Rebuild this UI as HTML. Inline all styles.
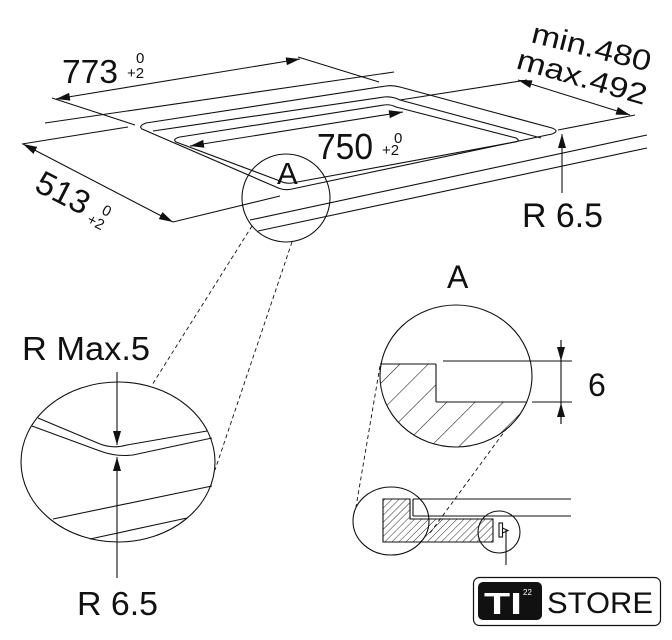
<!DOCTYPE html>
<html><head><meta charset="utf-8"><style>
html,body{margin:0;padding:0;background:#fff;}
svg{display:block;}
text{font-family:"Liberation Sans",sans-serif;fill:#111;}
</style></head><body>
<svg width="672" height="640" viewBox="0 0 672 640" xmlns="http://www.w3.org/2000/svg">
<defs>
<marker id="ah" viewBox="0 0 14 8" refX="14" refY="4" markerWidth="14" markerHeight="8" orient="auto-start-reverse" markerUnits="userSpaceOnUse">
<path d="M0,0 L14,4 L0,8 Z" fill="#111"/>
</marker>
<pattern id="h1" patternUnits="userSpaceOnUse" width="20" height="20" patternTransform="rotate(45)">
<line x1="0" y1="0" x2="0" y2="20" stroke="#111" stroke-width="1.1"/>
</pattern>
<pattern id="h2" patternUnits="userSpaceOnUse" width="5" height="5" patternTransform="rotate(45)">
<line x1="0" y1="0" x2="0" y2="5" stroke="#111" stroke-width="0.9"/>
</pattern>
<clipPath id="cA"><ellipse cx="456" cy="376" rx="76" ry="71"/></clipPath>
</defs>
<g fill="none" stroke="#111" stroke-width="1.1">
<line x1="45" y1="123" x2="394" y2="72"/>
<line x1="22" y1="144" x2="128" y2="127"/>
<line x1="400" y1="100" x2="527" y2="80"/>
<line x1="56" y1="99" x2="300" y2="59" marker-start="url(#ah)" marker-end="url(#ah)"/>
<line x1="52" y1="98" x2="135" y2="125"/>
<line x1="298" y1="57" x2="379" y2="82"/>
<path d="M146,123 L386,86 Q393,85 400,87 L552,128 Q560,131 552,134 L292,189 Q284,191 276,187 L142,129 Q138,126 146,123 Z"/>
<path d="M153,131 L384,97 Q392,96 400,100 L541,138"/>
<path d="M180,137 L384,105 Q390,104 396,107 L516,138 Q521,141 515,142 L292,183 Q286,184 280,181 L176,142 Q172,139 180,137 Z"/>
<line x1="190" y1="146" x2="403" y2="112" marker-start="url(#ah)" marker-end="url(#ah)"/>
<line x1="558" y1="130" x2="635" y2="115"/>
<line x1="518" y1="80" x2="630" y2="115" marker-start="url(#ah)" marker-end="url(#ah)"/>
<line x1="173" y1="222" x2="280" y2="196"/>
<line x1="250" y1="220" x2="647" y2="135"/>
<line x1="258" y1="231" x2="647" y2="148"/>
<line x1="23" y1="144" x2="173" y2="222" marker-start="url(#ah)" marker-end="url(#ah)"/>
<line x1="562" y1="193" x2="562" y2="134" marker-end="url(#ah)"/>
<ellipse cx="286" cy="198" rx="44" ry="44"/>
<line x1="252" y1="226" x2="152" y2="385" stroke-dasharray="4,3" stroke-width="0.9"/>
<line x1="292" y1="242" x2="215" y2="470" stroke-dasharray="4,3" stroke-width="0.9"/>
<ellipse cx="118" cy="462" rx="97" ry="80"/>
<path d="M38,418 L100,444 Q113,449 127,445 L207,431"/>
<path d="M32,426 L100,451 Q116,457 133,455 L212,438"/>
<line x1="53" y1="519" x2="212" y2="486"/>
<line x1="90" y1="539" x2="187" y2="518"/>
<line x1="117" y1="372" x2="117" y2="445" marker-end="url(#ah)"/>
<line x1="117" y1="578" x2="117" y2="457" marker-end="url(#ah)"/>
<path d="M380,364 L436,364 L436,402 L540,402 L540,460 L370,460 L370,364 Z" fill="url(#h1)" stroke="none" clip-path="url(#cA)"/>
<ellipse cx="456" cy="376" rx="76" ry="71"/>
<line x1="380" y1="364" x2="436" y2="364"/>
<line x1="436" y1="364" x2="436" y2="402"/>
<line x1="436" y1="402" x2="526" y2="402"/>
<line x1="443" y1="361" x2="572" y2="361"/>
<line x1="532" y1="402" x2="572" y2="402"/>
<line x1="561" y1="340" x2="561" y2="424"/>
<line x1="561" y1="340" x2="561" y2="361" marker-end="url(#ah)"/>
<line x1="561" y1="424" x2="561" y2="403" marker-end="url(#ah)"/>
<line x1="380" y1="366" x2="356" y2="507" stroke-dasharray="4,3" stroke-width="0.9"/>
<line x1="507" y1="428" x2="430" y2="533" stroke-dasharray="4,3" stroke-width="0.9"/>
<ellipse cx="391" cy="521" rx="38" ry="34" fill="#fff"/>
<circle cx="499" cy="532" r="21" fill="#fff"/>
<path d="M383,499 L410,499 L410,519 L493,519 L493,542 L383,542 Z" fill="url(#h2)"/>
<line x1="413" y1="499" x2="571" y2="499"/>
<line x1="413" y1="516" x2="571" y2="516"/>
<line x1="413" y1="499" x2="413" y2="516"/>
<rect x="499" y="523" width="3.5" height="14"/>
<path d="M502.5,528 L508,530.5 L502.5,533"/>
<line x1="506" y1="530" x2="506" y2="565"/>
<rect x="473.5" y="577.5" width="187" height="48" rx="6" stroke-width="1.2"/>
</g>
<rect x="478" y="582" width="64" height="38" rx="5" fill="#111"/>
<text x="484" y="614" font-size="31" font-weight="bold" style="fill:#fff" textLength="38" lengthAdjust="spacingAndGlyphs">TI</text>
<text x="523" y="595" font-size="8" style="fill:#fff">22</text>
<text x="547" y="613" font-size="30" textLength="106" lengthAdjust="spacingAndGlyphs">STORE</text>
<text x="62" y="83" font-size="33" textLength="56" lengthAdjust="spacingAndGlyphs">773</text>
<text x="136" y="63" font-size="15">0</text>
<text x="127" y="78" font-size="15">+2</text>
<text x="317" y="159" font-size="36" textLength="56" lengthAdjust="spacingAndGlyphs">750</text>
<text x="394" y="143" font-size="15">0</text>
<text x="382" y="155" font-size="15">+2</text>
<text x="277" y="184" font-size="31">A</text>
<g transform="translate(33,190) rotate(27)">
<text x="0" y="0" font-size="33" textLength="56" lengthAdjust="spacingAndGlyphs">513</text>
<text x="71" y="-10" font-size="15">0</text>
<text x="62" y="5" font-size="15">+2</text>
</g>
<text transform="translate(530,42) rotate(14)" font-size="29" textLength="122" lengthAdjust="spacingAndGlyphs">min.480</text>
<text transform="translate(515,68) rotate(16)" font-size="29" textLength="134" lengthAdjust="spacingAndGlyphs">max.492</text>
<text x="522" y="227" font-size="34" textLength="81" lengthAdjust="spacingAndGlyphs">R 6.5</text>
<text x="22" y="360" font-size="33" textLength="128" lengthAdjust="spacingAndGlyphs">R Max.5</text>
<text x="77" y="615" font-size="33" textLength="81" lengthAdjust="spacingAndGlyphs">R 6.5</text>
<text x="447" y="288" font-size="32">A</text>
<text x="588" y="396" font-size="32">6</text>
</svg>
</body></html>
